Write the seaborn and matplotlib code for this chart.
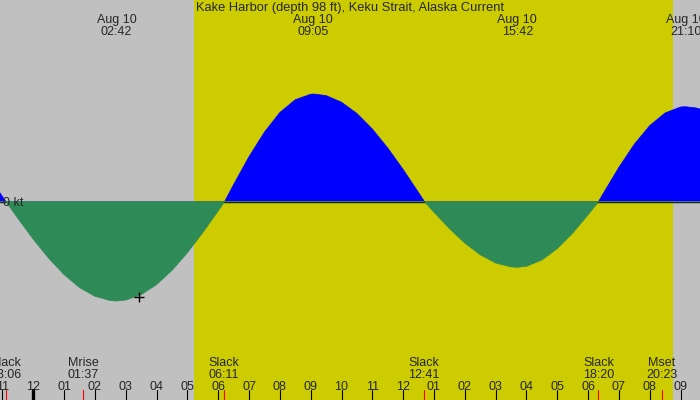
import matplotlib
matplotlib.use("Agg")
import matplotlib.pyplot as plt
import seaborn as sns
import pandas as pd

# ==========================================
# 1. DATA (hours from Aug 10 00:00, speed in kt)
# ==========================================
title = "Kake Harbor (depth 98 ft), Keku Strait, Alaska Current"

curve_hours = [-1.1, -0.88, -0.5, 0, 0.5, 1, 1.5, 2, 2.5, 2.7, 3, 3.5, 4, 4.5, 5, 5.5, 6, 6.2,
               6.5, 7, 7.5, 8, 8.5, 9, 9.1, 9.5, 10, 10.5, 11, 11.5, 12, 12.5, 12.7,
               13, 13.5, 14, 14.5, 15, 15.5, 15.7, 16, 16.5, 17, 17.5, 18, 18.33,
               18.5, 19, 19.5, 20, 20.5, 21, 21.15, 21.5, 21.7]
curve_speed = [0.10, 0, -0.164, -0.373, -0.563, -0.727, -0.856, -0.943, -0.986, -0.99, -0.981,
               -0.927, -0.826, -0.684, -0.508, -0.306, -0.089, 0,
               0.175, 0.454, 0.699, 0.895, 1.023, 1.078, 1.08, 1.064, 0.998, 0.885, 0.730,
               0.540, 0.325, 0.094, 0,
               -0.102, -0.266, -0.411, -0.528, -0.610, -0.649, -0.653, -0.643, -0.580,
               -0.466, -0.311, -0.128, 0,
               0.090, 0.347, 0.578, 0.764, 0.891, 0.950, 0.953, 0.941, 0.924]

peak_clock = ["02:42", "09:05", "15:42", "21:10"]
peak_date = ["Aug 10", "Aug 10", "Aug 10", "Aug 10"]

event_names = ["Slack", "Mrise", "Slack", "Slack", "Slack", "Mset"]
event_clock = ["23:06", "01:37", "06:11", "12:41", "18:20", "20:23"]
event_day = [-1, 0, 0, 0, 0, 0]

sunrise_clock = "05:13"
sunset_clock = "20:45"

now_hour = 3.44
now_speed = -0.95


def clock_to_hours(s, day=0):
    h, m = s.split(":")
    return int(h) + int(m) / 60 + 24 * day


df = pd.DataFrame({"hour": curve_hours, "speed": curve_speed})
df["flood"] = df["speed"].clip(lower=0)
df["ebb"] = df["speed"].clip(upper=0)
peak_hours = [clock_to_hours(c) for c in peak_clock]
event_hours = [clock_to_hours(c, d) for c, d in zip(event_clock, event_day)]

# ==========================================
# 2. FIGURE
# ==========================================
sns.set_style("white")
plt.rcParams["font.family"] = ["Liberation Sans", "DejaVu Sans"]

fig = plt.figure(figsize=(7, 4), dpi=100)
ax = fig.add_axes([0, 0, 1, 1])
ax.set_facecolor("#C0C0C0")
ax.set_xlim(-1.08, 21.63)
ax.set_ylim(-1.98, 2.02)
ax.axvspan(clock_to_hours(sunrise_clock), clock_to_hours(sunset_clock), color="#CCCC00", lw=0, zorder=0)

# zero line, flood (blue) and ebb (green)
ax.axhline(0, color="black", lw=1.0, zorder=2)
sns.lineplot(data=df, x="hour", y="flood", ax=ax, color="#0000FF", lw=0.5, zorder=1.6)
ax.fill_between(df["hour"], df["speed"], 0.006, where=df["speed"] >= 0, color="#0000FF",
                lw=0, interpolate=True, zorder=1.5)
sns.lineplot(data=df, x="hour", y="ebb", ax=ax, color="#2E8B57", lw=0.5, zorder=3.1)
ax.fill_between(df["hour"], df["speed"], 0.006, where=df["speed"] <= 0, color="#2E8B57",
                lw=0, interpolate=True, zorder=3)

sns.scatterplot(x=[now_hour], y=[now_speed], ax=ax, marker="+", s=60, color="black",
                linewidth=1.0, zorder=4)

xt = ax.get_xaxis_transform()

# hour ticks
for h in range(-1, 22):
    lab = h % 12
    lab = 12 if lab == 0 else lab
    ax.plot([h, h], [0, 0.025], transform=xt, color="black", lw=0.8, clip_on=False, zorder=5)
    ax.text(h, 0.025, f"{lab:02d}", transform=xt, ha="center", va="baseline", fontsize=9, zorder=5)
ax.plot([0, 0], [0, 0.025], transform=xt, color="black", lw=2.4, zorder=5)

# event ticks and labels
for name, clock, h in zip(event_names, event_clock, event_hours):
    ax.plot([h, h], [0, 0.025], transform=xt, color="#FF0000", lw=0.8, zorder=6)
    ax.text(h, 0.086, name, transform=xt, ha="center", va="baseline", fontsize=9)
    ax.text(h, 0.056, clock, transform=xt, ha="center", va="baseline", fontsize=9)

# peak labels on top
for d, clock, h in zip(peak_date, peak_clock, peak_hours):
    ax.text(h, 1 - 23 / 400, d, transform=xt, ha="center", va="baseline", fontsize=9)
    ax.text(h, 1 - 35 / 400, clock, transform=xt, ha="center", va="baseline", fontsize=9)

fig.text(0.5, 1 - 11 / 400, title, ha="center", va="baseline", fontsize=9.3)
ax.annotate("0 kt", xy=(0, 0), xycoords=ax.get_yaxis_transform(), xytext=(3, -4),
            textcoords="offset pixels", ha="left", va="baseline", fontsize=9, zorder=6)

ax.set_xlabel("")
ax.set_ylabel("")
ax.set_xticks([])
ax.set_yticks([])
for s in ax.spines.values():
    s.set_visible(False)

plt.savefig("out.png", dpi=100)
